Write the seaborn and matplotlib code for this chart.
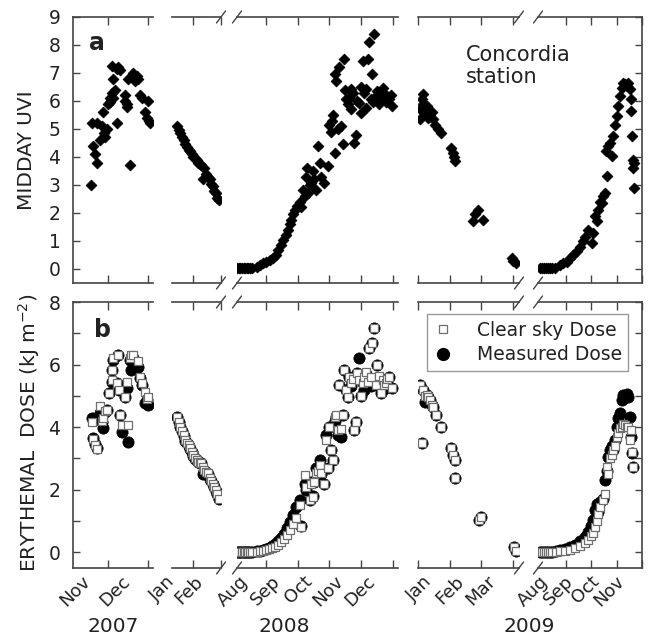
import matplotlib
matplotlib.use("Agg")
import matplotlib.pyplot as plt
from matplotlib.lines import Line2D
from matplotlib.transforms import ScaledTranslation
import seaborn as sns

sns.set_style("ticks")
plt.rcParams["font.family"] = ["DejaVu Sans"]

# ---------------- DATA (x in month units inside each segment) ----------------
# Panel a: midday UVI
uvi_07_x = [10.57, 10.59, 10.62, 10.68, 10.72, 10.72, 10.80, 10.84, 10.88, 10.90,
            10.93, 10.97, 11.01, 11.05, 11.06, 11.09, 11.10, 11.13, 11.13, 11.18,
            11.22, 11.23, 11.26, 11.30, 11.43, 11.43, 11.47, 11.47, 11.51, 11.55,
            11.63, 11.68, 11.72, 11.76, 11.80, 11.84, 11.93, 11.97, 12.01, 12.03,
            12.05]
uvi_07_y = [3.0, 5.2, 4.4, 4.1, 3.8, 5.2, 4.6, 5.1, 5.6, 4.85,
            4.7, 5.0, 5.9, 6.1, 5.95, 7.25, 6.3, 6.8, 6.1, 6.4,
            5.2, 7.15, 7.2, 7.1, 6.2, 6.0, 5.9, 5.8, 6.8, 3.7,
            7.0, 6.7, 6.9, 6.8, 6.2, 6.1, 5.6, 5.4, 6.0, 5.3,
            5.2]

uvi_08a_x = [0.44, 0.50, 0.55, 0.61, 0.67, 0.72, 0.78, 0.84, 0.90, 0.96,
             1.01, 1.07, 1.13, 1.18, 1.24, 1.30, 1.36, 1.41, 1.47, 1.53,
             1.59, 1.65, 1.70, 1.76, 1.82, 1.87, 1.93]
uvi_08a_y = [5.1, 4.95, 4.87, 4.7, 4.6, 4.45, 4.35, 4.25, 4.2, 4.1,
             4.0, 3.95, 3.9, 3.8, 3.75, 3.7, 3.2, 3.6, 3.4, 3.3,
             3.2, 3.05, 2.95, 2.8, 2.7, 2.55, 2.45]

uvi_08b_x = [7.10, 7.15, 7.20, 7.25, 7.30, 7.35, 7.40, 7.45, 7.50, 7.55,
             7.72, 7.81, 7.91, 8.02, 8.13, 8.23, 8.31, 8.38, 8.47, 8.54,
             8.63, 8.70, 8.75, 8.80, 8.85, 8.91, 8.97, 9.06, 9.12, 9.17,
             9.22, 9.27, 9.29, 9.32, 9.38, 9.43, 9.48, 9.53, 9.58, 9.63,
             9.69, 9.74, 9.84, 9.95, 10.00, 10.05, 10.08, 10.10, 10.16, 10.19,
             10.21, 10.26, 10.31, 10.37, 10.42, 10.47, 10.50, 10.52, 10.57, 10.63,
             10.68, 10.69, 10.73, 10.78, 10.83, 10.88, 10.94, 10.99, 11.00, 11.04,
             11.09, 11.15, 11.16, 11.20, 11.25, 11.30, 11.35, 11.37, 11.41, 11.46,
             11.51, 11.53, 11.56, 11.62, 11.67, 11.69, 11.72, 11.77, 11.82, 11.88,
             11.93, 11.98]
uvi_08b_y = [0.02, 0.02, 0.02, 0.02, 0.02, 0.02, 0.02, 0.02, 0.02, 0.03,
             0.08, 0.14, 0.20, 0.26, 0.32, 0.38, 0.50, 0.68, 0.85, 1.04,
             1.20, 1.40, 1.60, 1.76, 1.95, 2.10, 2.25, 2.40, 2.20, 2.83,
             2.60, 3.30, 3.60, 2.70, 3.00, 3.07, 3.50, 3.20, 2.83, 4.38,
             3.79, 3.30, 3.07, 3.67, 5.16, 4.90, 5.30, 5.50, 4.15, 6.95,
             6.72, 5.00, 7.20, 5.10, 4.45, 7.50, 6.40, 6.06, 5.88, 6.12,
             6.42, 5.70, 6.30, 4.50, 4.80, 6.00, 5.94, 5.58, 6.50, 7.43,
             6.30, 6.42, 5.75, 7.50, 8.09, 6.06, 6.96, 5.95, 8.39, 6.18,
             6.36, 6.00, 5.90, 6.20, 6.12, 6.45, 6.30, 5.95, 6.10, 6.06,
             6.20, 5.82]

uvi_09a_x = [0.06, 0.06, 0.12, 0.17, 0.17, 0.22, 0.27, 0.31, 0.38, 0.43,
             0.48, 0.53, 0.63, 0.74, 1.05, 1.10, 1.13, 1.16, 1.73, 1.81,
             1.88, 2.04, 2.98, 3.00, 3.08]
uvi_09a_y = [5.70, 5.34, 6.06, 6.24, 5.90, 5.52, 5.82, 5.40, 5.52, 5.60,
             5.34, 5.16, 5.00, 4.87, 4.33, 4.15, 4.00, 3.85, 1.70, 1.95,
             2.12, 1.76, 0.38, 0.30, 0.20]

uvi_09b_x = [6.97, 7.05, 7.13, 7.20, 7.28, 7.36, 7.45, 7.55, 7.76, 7.88,
             8.03, 8.16, 8.29, 8.42, 8.55, 8.67, 8.75, 8.88, 9.01, 9.08,
             9.14, 9.21, 9.27, 9.34, 9.41, 9.47, 9.54, 9.56, 9.61, 9.67,
             9.74, 9.80, 9.87, 9.93, 10.00, 10.06, 10.13, 10.20, 10.26, 10.33,
             10.40, 10.46, 10.53, 10.55, 10.57, 10.60, 10.63, 10.66, 10.67, 10.68]
uvi_09b_y = [0.02, 0.02, 0.02, 0.02, 0.02, 0.02, 0.02, 0.05, 0.14, 0.20,
             0.26, 0.38, 0.50, 0.65, 0.80, 1.00, 1.16, 1.40, 0.92, 1.28,
             1.88, 1.70, 2.12, 2.40, 2.36, 2.60, 2.71, 4.21, 3.31, 4.38,
             4.50, 4.03, 4.74, 5.16, 5.46, 5.82, 6.18, 6.48, 6.66, 6.60,
             6.55, 6.66, 6.42, 6.06, 5.64, 4.74, 3.91, 3.61, 3.79, 2.89]

# Panel b: erythemal dose (kJ m-2), measured and clear sky
dose_07_x = [10.59, 10.63, 10.68, 10.72, 10.80, 10.84, 10.88, 10.93, 10.97, 11.03,
             11.09, 11.11, 11.13, 11.22, 11.26, 11.28, 11.30, 11.34, 11.42, 11.47,
             11.51, 11.55, 11.57, 11.63, 11.76, 11.80, 11.84, 11.93, 11.97, 12.00]
dose_07_meas = [4.28, 3.67, 3.45, 3.32, 4.45, 4.17, 3.96, 4.50, 4.54, 5.08,
                5.45, 5.82, 6.14, 5.40, 6.30, 5.18, 4.38, 3.85, 4.95, 5.24,
                3.53, 6.14, 5.82, 6.20, 5.93, 5.56, 5.34, 4.76, 4.87, 4.70]
dose_07_clear = [4.18, 3.62, 3.42, 3.30, 4.68, 4.20, 4.30, 4.52, 4.55, 5.10,
                 5.50, 5.82, 6.20, 5.42, 6.30, 5.20, 4.40, 4.06, 4.97, 5.45,
                 4.06, 6.20, 6.30, 6.30, 6.10, 5.60, 5.40, 5.13, 4.90, 4.95]

dose_08a_x = [0.44, 0.49, 0.55, 0.61, 0.67, 0.72, 0.78, 0.84, 0.90, 0.96,
              1.01, 1.07, 1.13, 1.18, 1.24, 1.30, 1.36, 1.41, 1.47, 1.53,
              1.59, 1.65, 1.70, 1.76, 1.82, 1.87, 1.93]
dose_08a_meas = [4.31, 4.15, 4.00, 3.87, 3.73, 3.57, 3.49, 3.41, 3.31, 3.20,
                 3.09, 2.99, 2.94, 2.88, 2.85, 2.84, 2.50, 2.60, 2.56, 2.51,
                 2.35, 2.27, 2.19, 2.08, 1.97, 1.87, 1.71]
dose_08a_clear = [4.33, 4.17, 4.01, 3.88, 3.74, 3.58, 3.50, 3.42, 3.32, 3.21,
                  3.10, 3.00, 2.95, 2.89, 2.86, 2.84, 2.73, 2.62, 2.57, 2.52,
                  2.36, 2.28, 2.20, 2.09, 1.98, 1.88, 1.72]

dose_08b_x = [7.10, 7.15, 7.20, 7.25, 7.30, 7.35, 7.40, 7.45, 7.50, 7.55,
              7.72, 7.81, 7.91, 8.00, 8.09, 8.19, 8.28, 8.38, 8.47, 8.56,
              8.66, 8.75, 8.84, 8.94, 9.06, 9.12, 9.22, 9.27, 9.38, 9.43,
              9.48, 9.53, 9.58, 9.63, 9.69, 9.74, 9.84, 9.90, 9.95, 10.00,
              10.05, 10.10, 10.16, 10.21, 10.26, 10.31, 10.37, 10.42, 10.47, 10.52,
              10.57, 10.63, 10.68, 10.73, 10.78, 10.83, 10.88, 10.94, 10.99, 11.04,
              11.09, 11.15, 11.20, 11.25, 11.30, 11.35, 11.41, 11.46, 11.51, 11.56,
              11.62, 11.67, 11.72, 11.77, 11.82, 11.88, 11.98]
dose_08b_meas = [0.02, 0.02, 0.02, 0.02, 0.02, 0.02, 0.02, 0.02, 0.02, 0.02,
                 0.03, 0.05, 0.08, 0.10, 0.14, 0.20, 0.27, 0.36, 0.47, 0.60,
                 0.78, 0.98, 1.20, 1.45, 1.66, 0.85, 2.20, 2.00, 1.66, 2.25,
                 1.80, 2.25, 2.70, 2.50, 2.94, 2.50, 2.20, 3.74, 2.68, 4.00,
                 3.26, 2.94, 4.20, 4.33, 3.74, 5.34, 3.69, 4.38, 5.82, 5.18,
                 4.97, 5.60, 5.30, 5.50, 3.90, 4.17, 5.72, 6.20, 5.00, 5.40,
                 5.20, 5.70, 5.50, 6.52, 5.30, 6.68, 7.16, 5.34, 5.98, 5.50,
                 5.10, 5.50, 5.40, 5.25, 5.50, 5.60, 5.24]
dose_08b_clear = [0.00, 0.00, 0.00, 0.00, 0.00, 0.00, 0.00, 0.00, 0.00, 0.00,
                  0.02, 0.03, 0.05, 0.07, 0.10, 0.13, 0.18, 0.25, 0.33, 0.42,
                  0.55, 0.72, 0.90, 1.10, 1.50, 0.81, 2.46, 2.09, 1.66, 2.20,
                  1.77, 2.25, 2.52, 2.60, 2.80, 2.55, 2.20, 3.60, 2.68, 4.00,
                  3.26, 2.94, 4.33, 4.40, 3.90, 5.34, 3.95, 4.38, 5.82, 5.18,
                  4.97, 5.60, 5.40, 5.55, 3.90, 4.17, 5.72, 5.50, 5.00, 5.40,
                  5.60, 5.75, 5.45, 6.52, 5.60, 6.68, 7.16, 5.34, 5.98, 5.65,
                  5.10, 5.50, 5.35, 5.40, 5.55, 5.60, 5.24]

dose_09a_x = [0.06, 0.12, 0.17, 0.22, 0.27, 0.32, 0.38, 0.43, 0.48, 0.58,
              0.74, 1.05, 1.10, 1.16, 1.17, 1.94, 1.99, 3.03, 3.08]
dose_09a_meas = [5.34, 3.48, 5.18, 4.81, 5.02, 4.95, 4.86, 4.72, 4.65, 4.38,
                 4.01, 3.32, 3.10, 2.94, 2.36, 1.02, 1.13, 0.17, 0.03]
dose_09a_clear = [5.34, 3.48, 5.18, 5.00, 5.02, 4.95, 4.86, 4.72, 4.65, 4.38,
                  4.01, 3.32, 3.10, 2.94, 2.36, 1.02, 1.13, 0.17, 0.05]

dose_09b_x = [6.97, 7.05, 7.13, 7.20, 7.28, 7.36, 7.45, 7.60, 7.76, 7.96,
              8.16, 8.36, 8.55, 8.75, 8.87, 8.99, 9.07, 9.14, 9.21, 9.27,
              9.34, 9.47, 9.54, 9.61, 9.67, 9.74, 9.80, 9.87, 9.93, 10.00,
              10.06, 10.13, 10.20, 10.26, 10.33, 10.40, 10.46, 10.53, 10.57, 10.61,
              10.66]
dose_09b_meas = [0.02, 0.02, 0.02, 0.02, 0.02, 0.02, 0.02, 0.04, 0.06, 0.10,
                 0.17, 0.25, 0.36, 0.50, 0.65, 0.85, 1.02, 1.34, 1.56, 1.30,
                 1.60, 1.70, 2.30, 2.60, 3.05, 3.26, 3.40, 3.26, 3.58, 4.01,
                 4.30, 4.44, 4.86, 5.02, 5.00, 5.05, 4.97, 4.33, 3.69, 3.16,
                 2.73]
dose_09b_clear = [0.00, 0.00, 0.00, 0.00, 0.00, 0.00, 0.00, 0.02, 0.03, 0.05,
                  0.09, 0.14, 0.20, 0.30, 0.40, 0.52, 0.62, 0.80, 1.00, 1.24,
                  1.45, 1.66, 1.88, 2.73, 2.50, 3.00, 3.10, 3.26, 3.40, 3.70,
                  3.80, 3.96, 4.00, 4.10, 4.06, 4.00, 4.01, 3.58, 3.90, 3.20,
                  2.73]

month_ticks = [[11, 12], [1, 2], [8, 9, 10, 11, 12], [0, 1, 2, 3], [8, 9, 10, 11]]
month_labels = [["Nov", "Dec"], ["Jan", "Feb"], ["Aug", "Sep", "Oct", "Nov", "Dec"],
                ["", "Jan", "Feb", "Mar"], ["Aug", "Sep", "Oct", "Nov"]]
years = ["2007", "2008", "2009"]

uvi_sets = [(uvi_07_x, uvi_07_y), (uvi_08a_x, uvi_08a_y), (uvi_08b_x, uvi_08b_y),
            (uvi_09a_x, uvi_09a_y), (uvi_09b_x, uvi_09b_y)]
dose_sets = [(dose_07_x, dose_07_meas, dose_07_clear),
             (dose_08a_x, dose_08a_meas, dose_08a_clear),
             (dose_08b_x, dose_08b_meas, dose_08b_clear),
             (dose_09a_x, dose_09a_meas, dose_09a_clear),
             (dose_09b_x, dose_09b_meas, dose_09b_clear)]

# ---------------- LAYOUT ----------------
W, H = 648, 640
fig = plt.figure(figsize=(W / 100, H / 100), dpi=100)
fig.patch.set_facecolor("white")

seg_px = [(73, 153), (172, 221), (237, 398), (418, 519), (538, 642)]
seg_xlim = [(10.125, 12.125), (0.25, 2.0), (7.094, 12.156), (0.0, 3.1875), (6.895, 11.0)]
rows = [dict(top=17, bot=283, ylim=(-0.5, 9), yt=list(range(10)), every=1),
        dict(top=302, bot=568, ylim=(-0.5, 8), yt=list(range(9)), every=2)]

SP = "#444444"
TXT = "#222222"
shift = ScaledTranslation(-14 / 100, 0, fig.dpi_scale_trans)


def brk(ax, side, wpx, hpx):
    xc = 1.0 if side == "right" else 0.0
    dx = 4.5 / wpx
    dy = 6.0 / hpx
    for yc in (0.0, 1.0):
        ax.plot([xc - dx, xc + dx], [yc - dy, yc + dy], transform=ax.transAxes,
                color=SP, lw=1.0, clip_on=False, zorder=5)


for r, row in enumerate(rows):
    for s, (x0, x1) in enumerate(seg_px):
        ax = fig.add_axes([x0 / W, 1 - row["bot"] / H, (x1 - x0) / W,
                           (row["bot"] - row["top"]) / H])
        if r == 0:
            xs, ys = uvi_sets[s]
            sns.scatterplot(x=xs, y=ys, ax=ax, marker="D", s=30, color="black",
                            edgecolor="black", linewidth=0.6, legend=False, zorder=3)
        else:
            xs, ym, yc = dose_sets[s]
            sns.scatterplot(x=xs, y=ym, ax=ax, marker="o", s=66, color="black",
                            edgecolor="black", linewidth=0.5, legend=False, zorder=3)
            sns.scatterplot(x=xs, y=yc, ax=ax, marker="s", s=27, color="white",
                            edgecolor="#6f6f6f", linewidth=0.9, legend=False, zorder=4)
        ax.set_xlim(*seg_xlim[s])
        ax.set_ylim(*row["ylim"])
        ax.set_xlabel("")
        ax.set_ylabel("")
        ax.set_facecolor("none")
        for sp in ax.spines.values():
            sp.set_color(SP)
            sp.set_linewidth(1.2)
        ax.spines["left"].set_visible(s == 0)
        ax.spines["right"].set_visible(s == 4)
        ax.set_xticks(month_ticks[s])
        ax.set_xticklabels(month_labels[s] if r == 1 else [""] * len(month_ticks[s]))
        ax.tick_params(axis="x", direction="in", length=6, width=1, colors=SP,
                       top=True, bottom=True, labelbottom=(r == 1), labelsize=13,
                       labelcolor=TXT, pad=3)
        ax.set_yticks(row["yt"])
        if s == 0:
            ax.set_yticklabels([str(v) if v % row["every"] == 0 else "" for v in row["yt"]])
            ax.tick_params(axis="y", direction="in", length=5, width=1, colors=SP,
                           left=True, right=False, labelleft=True, labelsize=13.5,
                           labelcolor=TXT, pad=9)
        elif s == 4:
            ax.tick_params(axis="y", direction="in", length=5, width=1, colors=SP,
                           left=False, right=True, labelleft=False, labelright=False)
        else:
            ax.tick_params(axis="y", left=False, right=False, labelleft=False)
        if r == 1:
            for lab in ax.get_xticklabels():
                lab.set_rotation(45)
                lab.set_ha("right")
                lab.set_transform(lab.get_transform() + shift)
        wpx, hpx = x1 - x0, row["bot"] - row["top"]
        if s in (1, 3):
            brk(ax, "right", wpx, hpx)
        if s in (2, 4):
            brk(ax, "left", wpx, hpx)

# panel letters and annotations
fig.text(97 / W, 1 - 43 / H, "a", fontsize=17, fontweight="bold", color=TXT,
         ha="center", va="center")
fig.text(102 / W, 1 - 330 / H, "b", fontsize=17, fontweight="bold", color=TXT,
         ha="center", va="center")
fig.text(466 / W, 1 - 45 / H, "Concordia\nstation", fontsize=15, color=TXT,
         ha="left", va="top", linespacing=1.15)

fig.text(27 / W, 1 - 150 / H, "MIDDAY UVI", rotation=90, fontsize=14.5, color=TXT,
         ha="center", va="center")
fig.text(29 / W, 1 - 433 / H, r"ERYTHEMAL  DOSE (kJ m$^{-2}$)", rotation=90,
         fontsize=14.5, color=TXT, ha="center", va="center")

for yr, xc in zip(years, (113, 284, 529)):
    fig.text(xc / W, 1 - 627 / H, yr, fontsize=14.5, color=TXT, ha="center", va="center")

handles = [Line2D([], [], marker="s", linestyle="none", markersize=6,
                  markerfacecolor="white", markeredgecolor="#6f6f6f", markeredgewidth=0.9),
           Line2D([], [], marker="o", linestyle="none", markersize=8.5,
                  markerfacecolor="black", markeredgecolor="black")]
leg = fig.legend(handles, ["Clear sky Dose", "Measured Dose"], loc="upper left",
                 bbox_to_anchor=(427 / W, 1 - 314 / H), frameon=True, fancybox=False,
                 edgecolor="#9a9a9a", fontsize=13.5, handlelength=1.0,
                 handletextpad=1.3, borderpad=0.35, labelspacing=0.3,
                 borderaxespad=0, framealpha=1)
for t in leg.get_texts():
    t.set_color(TXT)

fig.savefig("out.png", dpi=100)
